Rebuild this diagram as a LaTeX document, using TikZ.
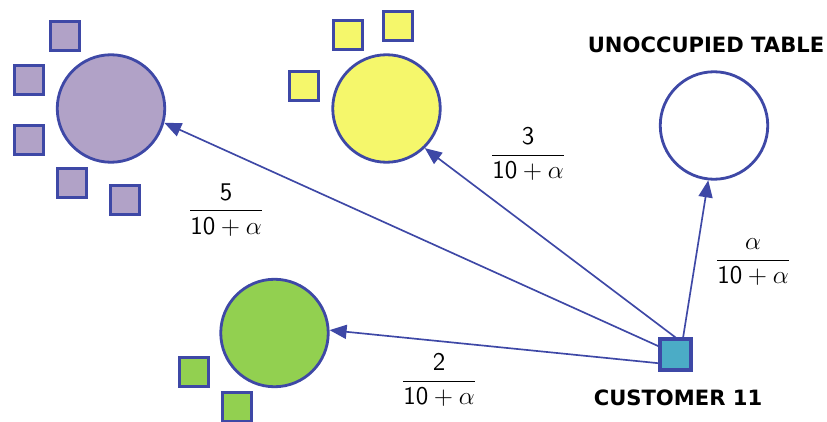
\documentclass[tikz,border=0pt]{standalone}
\usepackage{fontspec}
\usepackage{amsmath}
\newfontfamily\capsfont{DejaVu Sans}
\usetikzlibrary{arrows.meta}

\definecolor{edgeblue}{RGB}{62,72,166}
\definecolor{lilac}{RGB}{177,162,199}
\definecolor{lemon}{RGB}{245,247,107}
\definecolor{leaf}{RGB}{146,208,80}
\definecolor{teal}{RGB}{75,172,198}

\tikzset{
    roundtable/.style={circle, draw=edgeblue, line width=1.6pt, minimum size=2.15cm, inner sep=0pt},
    guest/.style={rectangle, draw=edgeblue, line width=1.8pt, minimum size=0.58cm, inner sep=0pt},
    prob/.style={font=\fontsize{14.5}{17}\selectfont},
    tabletext/.style={font=\capsfont\bfseries\fontsize{12}{14}\selectfont},
    link/.style={draw=edgeblue, line width=0.95pt, -{Triangle[length=0.34cm,width=0.28cm]}},
}

\begin{document}
\begin{tikzpicture}
    \useasboundingbox (0, 0) rectangle (16.54, 8.42);

    % 桌子
    \node[roundtable, fill=lilac] (purple) at (2.22, 6.25) {};
    \node[roundtable, fill=lemon] (yellow) at (7.73, 6.25) {};
    \node[roundtable, fill=white] (white) at (14.28, 5.91) {};
    \node[roundtable, fill=leaf] (green) at (5.49, 1.76) {};

    % 已就座的顾客
    \foreach \x/\y [count=\i] in {1.30/7.70, 0.58/6.82, 0.58/5.62, 1.44/4.76, 2.50/4.42}
        \node[guest, fill=lilac] (p\i) at (\x, \y) {};
    \foreach \x/\y [count=\i] in {6.96/7.72, 7.96/7.90, 6.08/6.70}
        \node[guest, fill=lemon] (y\i) at (\x, \y) {};
    \foreach \x/\y [count=\i] in {3.88/0.98, 4.74/0.28}
        \node[guest, fill=leaf] (g\i) at (\x, \y) {};

    % 新顾客
    \node[guest, fill=teal, minimum size=0.62cm] (cust) at (13.51, 1.33) {};
    \node[tabletext] (custtext) at (13.56, 0.47) {CUSTOMER 11};
    \node[tabletext] (freetext) at (14.12, 7.52) {UNOCCUPIED TABLE};

    % 概率
    \draw[link] (cust.154) -- (purple.-15);
    \draw[link] (cust.north) -- (yellow.-46);
    \draw[link] (cust.66) -- (white.-96);
    \draw[link] (cust.207) -- (green.3);

    \node[prob] (pp) at (4.52, 4.22) {$\dfrac{\mathsf{5}}{\mathsf{10}+\alpha}$};
    \node[prob] (py) at (10.56, 5.34) {$\dfrac{\mathsf{3}}{\mathsf{10}+\alpha}$};
    \node[prob] (pg) at (8.78, 0.82) {$\dfrac{\mathsf{2}}{\mathsf{10}+\alpha}$};
    \node[prob] (pw) at (15.06, 3.18) {$\dfrac{\alpha}{\mathsf{10}+\alpha}$};
\end{tikzpicture}
\end{document}
